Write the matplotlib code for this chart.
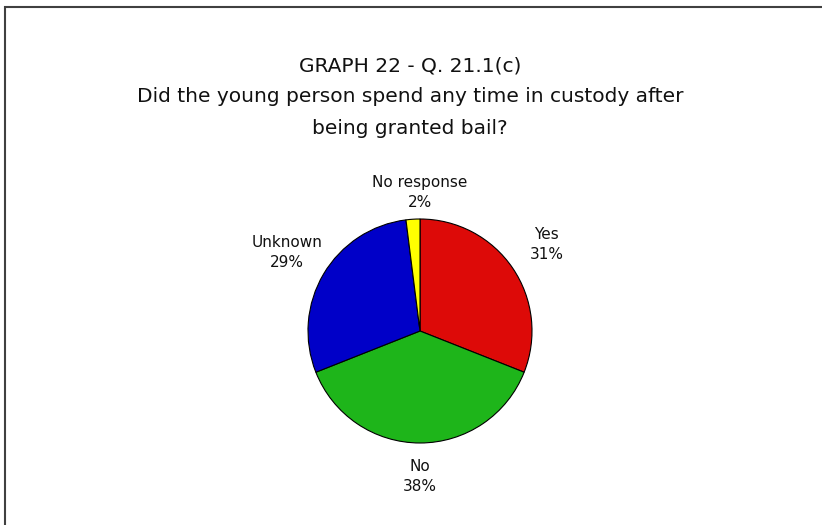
import numpy as np
import matplotlib
matplotlib.use("Agg")
import matplotlib.pyplot as plt
from matplotlib.patches import Rectangle

categories = ["Yes", "No", "Unknown", "No response"]
values = [31, 38, 29, 2]
colors = ["#DD0A08", "#1EB51A", "#0000C8", "#FFFF00"]
title = ("GRAPH 22 - Q. 21.1(c)\n"
         "Did the young person spend any time in custody after\n"
         "being granted bail?")

plt.rcParams['font.family'] = ['DejaVu Sans']
W, H = 822, 525
fig = plt.figure(figsize=(W / 100, H / 100), dpi=100)

# frame
fig.add_artist(Rectangle((5 / W, -0.05), 1.1, 1 - 7 / H + 0.05, transform=fig.transFigure,
                         fill=False, edgecolor="#404040", linewidth=1.5))

cx, cy, r = 420, 331, 112
ax = fig.add_axes([(cx - r) / W, (H - cy - r) / H, 2 * r / W, 2 * r / H])
labels = [f"{c}\n{v}%" for c, v in zip(categories, values)]
wedges, texts = ax.pie(values, colors=colors, startangle=90, counterclock=False, labels=labels,
                       labeldistance=1.32,
                       wedgeprops=dict(edgecolor="black", linewidth=0.8),
                       textprops=dict(ha="center", va="center", fontsize=11,
                                      linespacing=1.45, color="#111111"))
label_r = [1.37, 1.30, 1.38, 1.24]
for w, t, lr in zip(wedges, texts, label_r):
    ang = np.deg2rad((w.theta1 + w.theta2) / 2)
    x = lr * np.cos(ang)
    if abs(x) < 0.15:
        x = 0.0
    t.set_position((x, lr * np.sin(ang)))
ax.set_xlim(-1, 1)
ax.set_ylim(-1, 1)
ax.set_aspect("equal")
ax.axis("off")

fig.text(410 / W, 1 - 97 / H, title, ha="center", va="center", fontsize=14.5,
         linespacing=1.8, color="#111111")

fig.savefig("out.png", dpi=100)
